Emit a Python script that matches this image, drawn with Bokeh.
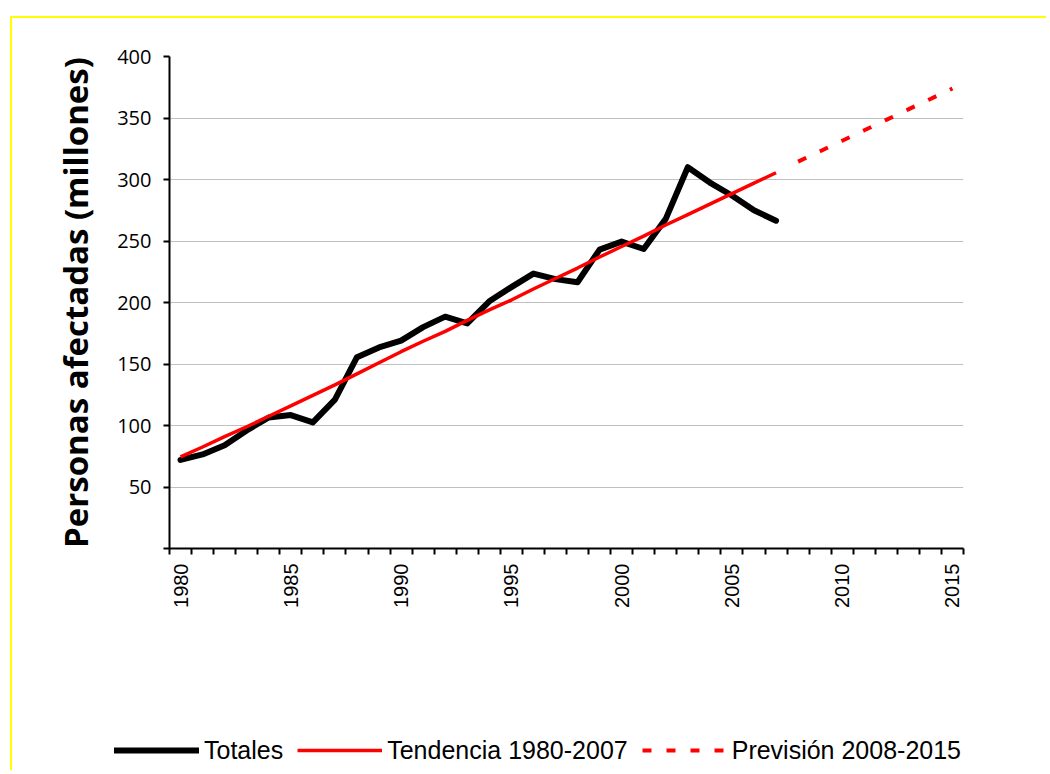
from math import pi
from bokeh.plotting import figure
from bokeh.layouts import column
from bokeh.models import Legend, LegendItem, FixedTicker, Range1d
from bokeh.embed import file_html
from bokeh.resources import INLINE

# ---- data ----
years_tot = list(range(1980, 2008))
totales = [72, 76.5, 84, 96, 106.5, 108.5, 102.5, 121, 155.5, 163.5,
           169, 180, 188.5, 183, 201, 212.5, 223.5, 219, 216.5, 243,
           249.5, 243.5, 268, 310, 297.5, 287, 275, 266.5]
tendencia = [74.5, 82.5, 91, 99, 107.5, 116, 124.5, 133, 142, 151,
             160, 168.5, 176.5, 185.5, 194, 202, 211, 219.5, 228, 237,
             245.5, 254, 263, 271.5, 280, 288.5, 297, 305.5]
years_prev = list(range(2008, 2016))
prevision = [314.5, 323, 331.5, 340, 348.5, 357, 365.5, 374]

y_ticks = [0, 50, 100, 150, 200, 250, 300, 350, 400]
x_label_years = [1980, 1985, 1990, 1995, 2000, 2005, 2010, 2015]
series_names = ["Totales", "Tendencia 1980-2007", "Previsión 2008-2015"]
y_title = "Personas afectadas (millones)"

TOT = dict(line_color="black", line_width=6, line_join="round", line_cap="round")
TEN = dict(line_color="#ff0000", line_width=3.5, line_join="round")
PRE = dict(line_color="#ff0000", line_width=4, line_dash="9 15")

W, H = 1034, 640
p = figure(width=W, height=H, output_backend="svg", toolbar_location=None,
           x_range=Range1d(1979.5, 2015.5), y_range=Range1d(0, 400),
           min_border_left=157, min_border_right=83,
           min_border_top=38, min_border_bottom=110)
p.frame_align = False
p.outline_line_color = None
p.background_fill_color = "white"
p.border_fill_color = "white"

# grid
p.xgrid.visible = False
p.ygrid.ticker = FixedTicker(ticks=y_ticks[1:])
p.ygrid.grid_line_color = "#c0c0c0"
p.ygrid.grid_line_width = 1

# y axis
yax = p.yaxis[0]
yax.ticker = FixedTicker(ticks=y_ticks)
yax.major_label_overrides = {0: ""}
yax.axis_line_color = "black"
yax.axis_line_width = 2
yax.major_tick_out = 6
yax.major_tick_in = 0
yax.major_tick_line_width = 2
yax.minor_tick_out = 0
yax.minor_tick_in = 0
yax.major_label_standoff = 12
yax.major_label_text_font = "Open Sans"
yax.major_label_text_font_size = "20px"
yax.major_label_text_color = "black"
yax.axis_label = y_title
yax.axis_label_text_font = "Open Sans"
yax.axis_label_text_font_style = "bold"
yax.axis_label_text_font_size = "33px"
yax.axis_label_text_color = "black"
yax.axis_label_standoff = 16

# x axis
xax = p.xaxis[0]
xax.ticker = FixedTicker(ticks=x_label_years,
                         minor_ticks=[1979.5 + i for i in range(37)])
xax.axis_line_color = "black"
xax.axis_line_width = 2
xax.major_tick_out = 0
xax.major_tick_in = 0
xax.minor_tick_out = 6
xax.minor_tick_in = 0
xax.minor_tick_line_color = "black"
xax.minor_tick_line_width = 2
xax.major_label_orientation = pi / 2
xax.major_label_standoff = 9
xax.major_label_text_font = "Liberation Sans"
xax.major_label_text_font_size = "20px"
xax.major_label_text_color = "black"

# lines
p.line(years_tot, totales, **TOT)
p.line(years_tot, tendencia, **TEN)
p.line(years_prev, prevision, **PRE)

# legend strip underneath (same series, drawn outside its view, only the key shows)
HL = 112
q = figure(width=W, height=HL, output_backend="svg", toolbar_location=None,
           x_range=Range1d(0, 1), y_range=Range1d(0, 1),
           x_axis_type=None, y_axis_type=None, min_border=0)
q.frame_align = False
q.outline_line_color = None
q.grid.visible = False
q.border_fill_color = "white"
q.background_fill_color = "white"
k_tot = q.line(years_tot, totales, **TOT)
k_ten = q.line(years_tot, tendencia, **TEN)
k_pre = q.line(years_prev, prevision, **PRE)

legend = Legend(items=[LegendItem(label=series_names[0], renderers=[k_tot]),
                       LegendItem(label=series_names[1], renderers=[k_ten]),
                       LegendItem(label=series_names[2], renderers=[k_pre])],
                orientation="horizontal", location=(102, 5),
                glyph_width=85, glyph_height=30, label_standoff=5, spacing=14,
                padding=0, margin=0, border_line_color=None,
                background_fill_alpha=0,
                label_text_font="Liberation Sans",
                label_text_font_size="25px", label_text_color="black")
q.add_layout(legend)

page = column(p, q, spacing=0)
page.styles = {"border-left": "2px solid #ffff00", "border-top": "2px solid #ffff00",
               "margin-left": "10px", "margin-top": "16px"}

open("out.html", "w").write(file_html(page, INLINE))
